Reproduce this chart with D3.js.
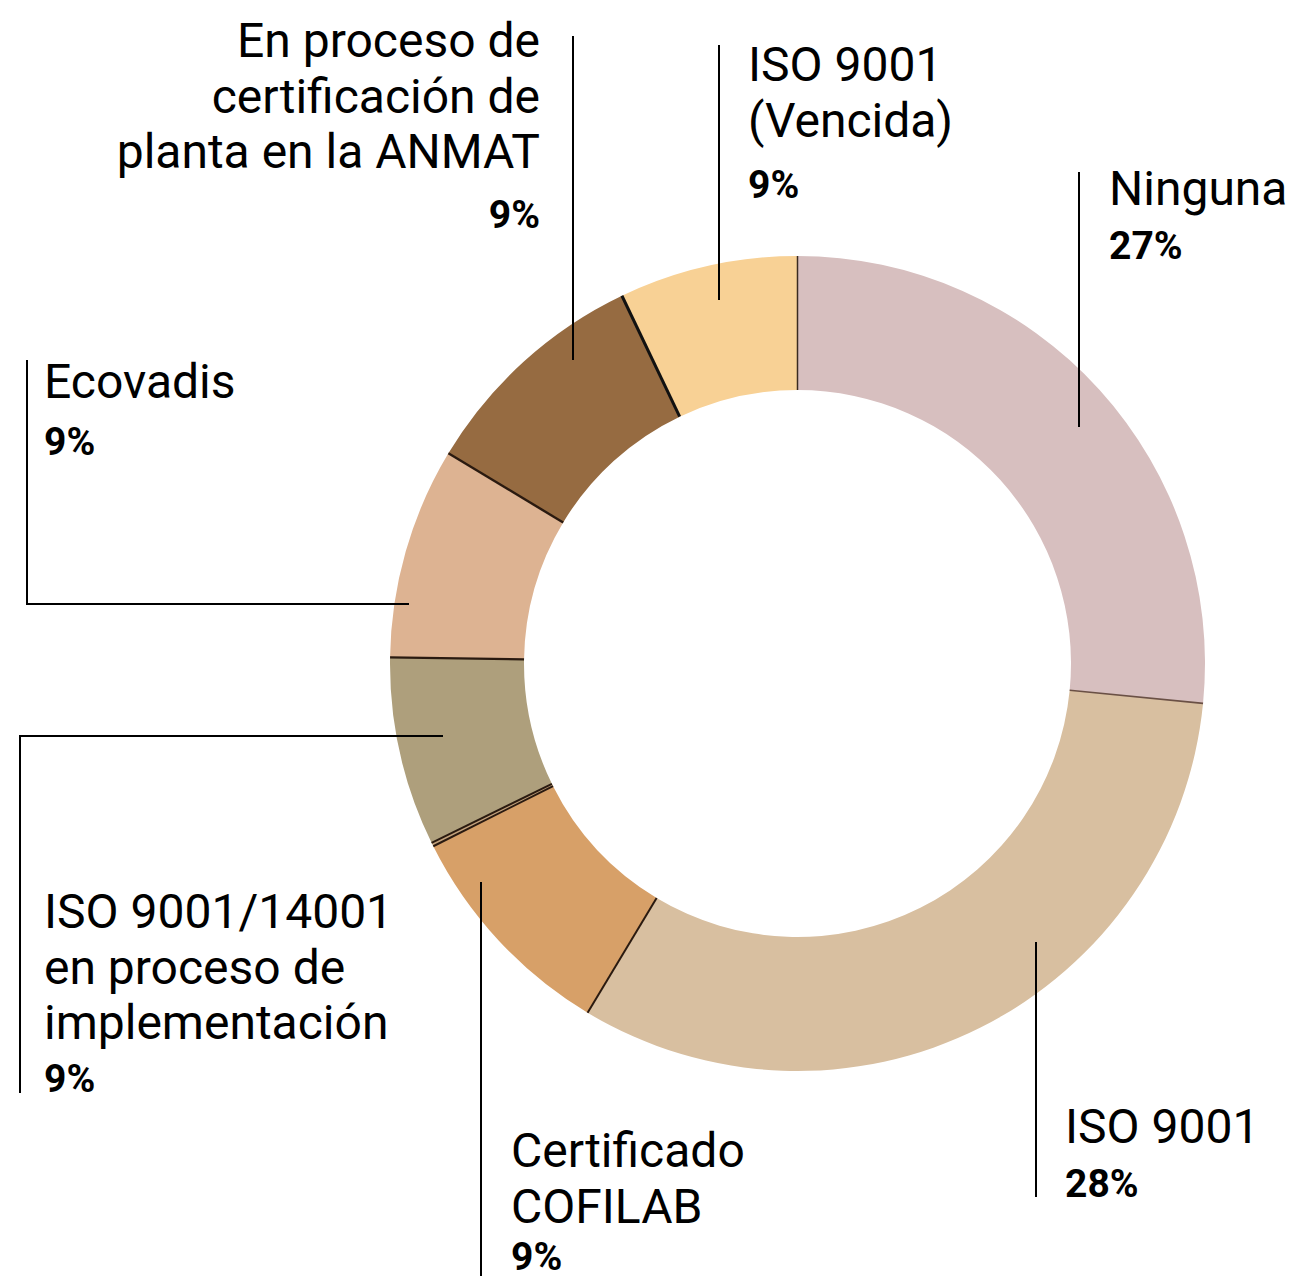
<!DOCTYPE html>
<html>
<head>
<meta charset="utf-8">
<script src="https://cdn.jsdelivr.net/npm/d3@7"></script>
<style>
  html, body { margin: 0; padding: 0; background: #ffffff; }
  svg { display: block; }
  text { font-family: Roboto, "Noto Sans", sans-serif; fill: #000; }
</style>
</head>
<body>
<script>
// ---- data ----
const categories = [
  "Ninguna",
  "ISO 9001",
  "Certificado COFILAB",
  "",
  "ISO 9001/14001 en proceso de implementación",
  "Ecovadis",
  "En proceso de certificación de planta en la ANMAT",
  "ISO 9001 (Vencida)"
];
// arc shares as drawn (degrees of the ring converted to share)
const values = [26.6, 32.1, 9.0, 0.15, 7.5, 8.4, 9.3, 7.1];
// printed percentage labels
const pctLabels = ["27%", "28%", "9%", "", "9%", "9%", "9%", "9%"];
// label lines as broken in the picture
const labelLines = [
  ["Ninguna"],
  ["ISO 9001"],
  ["Certificado", "COFILAB"],
  [],
  ["ISO 9001/14001", "en proceso de", "implementación"],
  ["Ecovadis"],
  ["En proceso de", "certificación de", "planta en la ANMAT"],
  ["ISO 9001", "(Vencida)"]
];

// ---- styles / layout ----
const colors = ["#d7bfbf", "#d8bfa0", "#d7a068", "#c3a27c", "#ae9f7c", "#ddb392", "#966b41", "#f8d195"];
const edgeColors = ["#3a2a20", "#6a5045", "#2a1a10", "#2a1a10", "#2a1a10", "#2a1a10", "#2a1a10", "#111"];
const edgeWidths = [1.5, 1.6, 2, 2, 2, 2.2, 2.4, 3];

const W = 1292, H = 1276;
const cx = 797.5, cy = 663.5, rOuter = 407.5, rInner = 273.5;
const nameSize = 48, pctSize = 39, lineH = 55.5;

// label placement (positions only)
const labelLayout = [
  { x: 1109, y: 205, anchor: "start", pctGap: 54 },
  { x: 1065, y: 1143, anchor: "start", pctGap: 54 },
  { x: 511, y: 1167, anchor: "start", pctGap: 47 },
  null,
  { x: 44, y: 928, anchor: "start", pctGap: 53 },
  { x: 44, y: 398, anchor: "start", pctGap: 57 },
  { x: 540, y: 57, anchor: "end", pctGap: 60 },
  { x: 748, y: 81, anchor: "start", pctGap: 61 }
];
const leaderLayout = [
  [[1079, 172], [1079, 427]],
  [[1036, 942], [1036, 1197]],
  [[481, 882], [481, 1276]],
  null,
  [[20, 1093], [20, 736], [443, 736]],
  [[27, 360], [27, 604], [409, 604]],
  [[573, 36], [573, 360]],
  [[719, 45], [719, 300]]
];

const svg = d3.select("body").append("svg")
  .attr("width", W).attr("height", H);

const data = categories.map((c, i) => ({ name: c, value: values[i], i }));

const pie = d3.pie().sort(null).value(d => d.value);
const arcs = pie(data);
const arc = d3.arc().innerRadius(rInner).outerRadius(rOuter);

const ring = svg.append("g").attr("transform", `translate(${cx},${cy})`);

ring.selectAll("path.slice")
  .data(arcs)
  .join("path")
  .attr("class", "slice")
  .attr("d", arc)
  .attr("fill", d => colors[d.data.i]);

// radial edges at each slice start
ring.selectAll("line.edge")
  .data(arcs)
  .join("line")
  .attr("class", "edge")
  .attr("x1", d => rInner * Math.sin(d.startAngle))
  .attr("y1", d => -rInner * Math.cos(d.startAngle))
  .attr("x2", d => rOuter * Math.sin(d.startAngle))
  .attr("y2", d => -rOuter * Math.cos(d.startAngle))
  .attr("stroke", d => edgeColors[d.data.i])
  .attr("stroke-width", d => edgeWidths[d.data.i]);

// leader lines
const line = d3.line();
svg.selectAll("path.leader")
  .data(leaderLayout.filter(Boolean))
  .join("path")
  .attr("class", "leader")
  .attr("d", d => line(d))
  .attr("fill", "none")
  .attr("stroke", "#000")
  .attr("stroke-width", 2);

// labels
data.forEach((d, i) => {
  const L = labelLayout[i];
  if (!L) return;
  const g = svg.append("g");
  const lines = labelLines[i];
  lines.forEach((t, k) => {
    g.append("text")
      .attr("x", L.x)
      .attr("y", L.y + k * lineH)
      .attr("text-anchor", L.anchor)
      .attr("font-size", nameSize)
      .attr("font-weight", 400)
      .text(t);
  });
  g.append("text")
    .attr("x", L.x)
    .attr("y", L.y + (lines.length - 1) * lineH + L.pctGap)
    .attr("text-anchor", L.anchor)
    .attr("font-size", pctSize)
    .attr("font-weight", 700)
    .text(pctLabels[i]);
});
</script>
</body>
</html>
